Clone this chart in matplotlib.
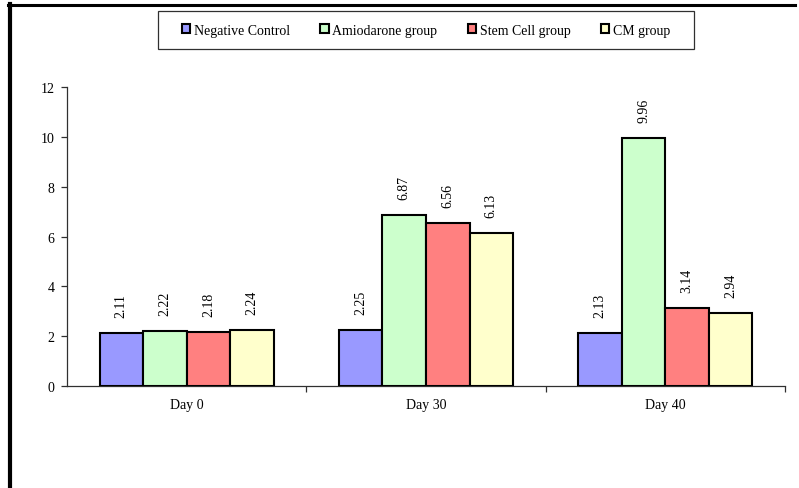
import matplotlib
matplotlib.use("Agg")
import matplotlib.pyplot as plt
import matplotlib.patches as mpatches
import numpy as np

plt.rcParams["font.family"] = ["Liberation Serif", "DejaVu Serif"]

days = ["Day 0", "Day 30", "Day 40"]
group_labels = ["Negative Control", "Amiodarone group", "Stem Cell group", "CM group"]
negative_control = [2.11, 2.25, 2.13]
amiodarone = [2.22, 6.87, 9.96]
stem_cell = [2.18, 6.56, 3.14]
cm_group = [2.24, 6.13, 2.94]
colors = ["#9999FF", "#CCFFCC", "#FF8080", "#FFFFCC"]

series = [negative_control, amiodarone, stem_cell, cm_group]

fig = plt.figure(figsize=(7.99, 4.89), dpi=100)
ax = fig.add_axes([0.0839, 0.2086, 0.8986, 0.6114])

x = np.arange(len(days))
width = 0.182

for i, (vals, color) in enumerate(zip(series, colors)):
    bars = ax.bar(x + (i - 1.5) * width, vals, width, color=color,
                  edgecolor="black", linewidth=1.5, zorder=3)
    for rect, v in zip(bars, vals):
        ax.annotate("{:.2f}".format(v),
                    xy=(rect.get_x() + rect.get_width() / 2, rect.get_height()),
                    xytext=(0, 11.5), textcoords="offset points",
                    ha="center", va="bottom", rotation=90, fontsize=10)

ax.set_xlim(-0.5, 2.5)
ax.set_ylim(0, 12)
ax.set_yticks(range(0, 13, 2))
ax.set_xticks(x)
ax.set_xticklabels(days)
ax.set_xticks([0.5, 1.5, 2.5], minor=True)

for side in ["top", "right"]:
    ax.spines[side].set_visible(False)
for side in ["left", "bottom"]:
    ax.spines[side].set_color("#303030")
    ax.spines[side].set_linewidth(0.9)

ax.tick_params(axis="x", which="major", length=0, pad=9, labelsize=10)
ax.tick_params(axis="x", which="minor", length=4, width=0.9, color="#303030", direction="out")
ax.tick_params(axis="y", length=4, width=0.9, color="#303030", pad=5, labelsize=10)

handles = [mpatches.Patch(facecolor=c, edgecolor="black", linewidth=1.5) for c in colors]
leg = fig.legend(handles, group_labels, loc="center",
                 bbox_to_anchor=(426 / 799, 1 - 31 / 489), ncol=4,
                 fontsize=10, frameon=False,
                 handlelength=0.6, handleheight=0.6, handletextpad=0.25,
                 columnspacing=2.2, borderpad=0.9)

# legend box (wider than the entries, as in the original)
fig.add_artist(mpatches.Rectangle((158 / 799, 1 - 50 / 489), 536 / 799, 38 / 489,
                                  transform=fig.transFigure, fill=False,
                                  edgecolor="#303030", linewidth=0.9))

# outer frame (left and top edges visible)
fig.add_artist(plt.Line2D([10 / 799, 10 / 799], [0, 1 - 5 / 489],
                          transform=fig.transFigure, color="black", linewidth=3))
fig.add_artist(plt.Line2D([8 / 799, 795 / 799], [1 - 6 / 489, 1 - 6 / 489],
                          transform=fig.transFigure, color="black", linewidth=2.2))

plt.savefig("out.png", dpi=100)
